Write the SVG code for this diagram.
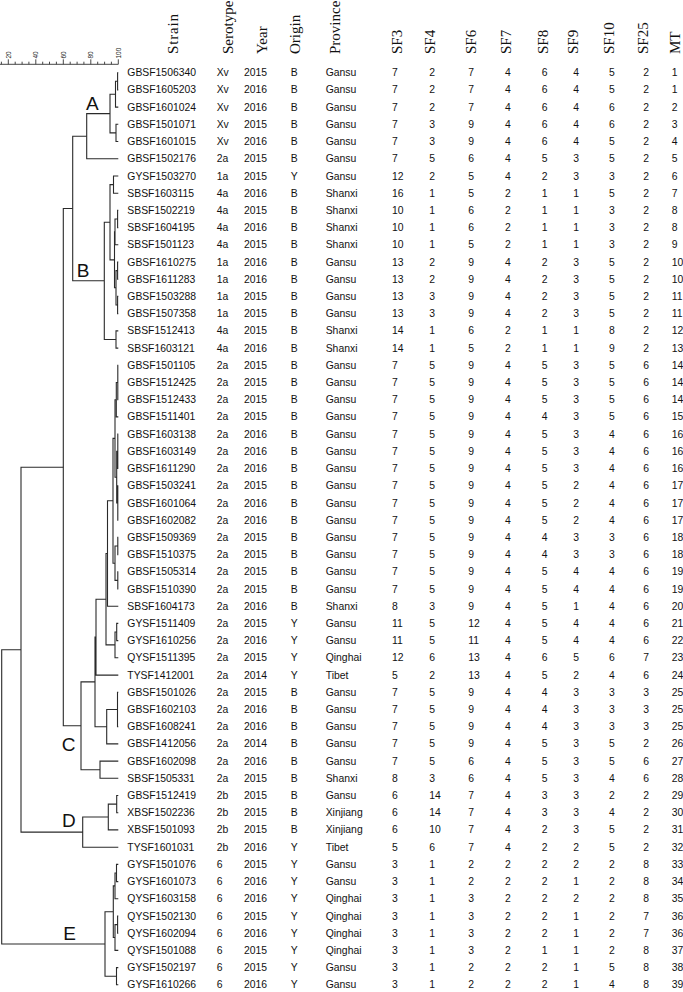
<svg xmlns="http://www.w3.org/2000/svg" width="683" height="992" viewBox="0 0 683 992">
<style>
.d{font-family:"Liberation Sans",Arial,sans-serif;font-size:10.4px;fill:#111}
.h{font-family:"Liberation Serif","Times New Roman",serif;font-size:15px;fill:#111}
.sc{font-family:"Liberation Sans",Arial,sans-serif;font-size:6.5px;fill:#222}
.cl{font-family:"Liberation Sans",Arial,sans-serif;font-size:19px;fill:#111}
.ln{fill:none;stroke:#2a2a2a;stroke-width:1.1}
.tk{fill:none;stroke:#333;stroke-width:0.9}
</style>
<rect width="683" height="992" fill="#fff"/>
<g id="scale">
<path class="tk" d="M0 64.3H118.3M118.3 59.3V64.3M111.4 61.7V64.3M104.6 61.7V64.3M97.7 61.7V64.3M90.8 59.3V64.3M83.9 61.7V64.3M77.1 61.7V64.3M70.2 61.7V64.3M63.3 59.3V64.3M56.4 61.7V64.3M49.5 61.7V64.3M42.7 61.7V64.3M35.8 59.3V64.3M28.9 61.7V64.3M22.1 61.7V64.3M15.2 61.7V64.3M8.3 59.3V64.3M1.4 61.7V64.3"/>
<text class="sc" transform="translate(120.6 58.5) rotate(-90)">100</text>
<text class="sc" transform="translate(93.1 58.5) rotate(-90)">80</text>
<text class="sc" transform="translate(65.6 58.5) rotate(-90)">60</text>
<text class="sc" transform="translate(38.1 58.5) rotate(-90)">40</text>
<text class="sc" transform="translate(10.6 58.5) rotate(-90)">20</text>
</g>
<g id="header">
<text class="h" transform="translate(178 54) rotate(-90)" textLength="40" lengthAdjust="spacing">Strain</text>
<text class="h" transform="translate(233 54) rotate(-90)">Serotype</text>
<text class="h" transform="translate(266.7 54) rotate(-90)">Year</text>
<text class="h" transform="translate(300 54) rotate(-90)">Origin</text>
<text class="h" transform="translate(340 54) rotate(-90)">Province</text>
<text class="h" transform="translate(401.7 54) rotate(-90)">SF3</text>
<text class="h" transform="translate(435 54) rotate(-90)">SF4</text>
<text class="h" transform="translate(476 54) rotate(-90)">SF6</text>
<text class="h" transform="translate(511 54) rotate(-90)">SF7</text>
<text class="h" transform="translate(547.5 54) rotate(-90)">SF8</text>
<text class="h" transform="translate(578 54) rotate(-90)">SF9</text>
<text class="h" transform="translate(614 54) rotate(-90)">SF10</text>
<text class="h" transform="translate(648 54) rotate(-90)">SF25</text>
<text class="h" transform="translate(680.3 54) rotate(-90)">MT</text>
</g>
<g id="connectors">
<path class="ln" d="M118.3 72.7H117.6V89.9H118.3M117.6 81.3H115.5V107.1H118.3M118.3 124.3H116V141.5H118.3M115.5 94.2H110V132.9H116M110 113.6H86.7V158.8H118.3"/>
<path class="ln" d="M118.3 176H113.5V193.2H118.3M118.3 210.4H117.6V227.6H118.3M117.6 219H115V244.8H118.3M118.3 262H117.6V279.2H118.3M118.3 296.4H117.6V313.6H118.3M117.6 270.6H116V305H117.6M115 231.9H114.5V287.8H116M113.5 184.6H110V259.9H114.5M118.3 330.9H116V348.1H118.3M110 222.2H104.3V339.5H116M86.7 136.2H72.7V280.8H104.3"/>
<path class="ln" d="M118.3 365.3H117.8V399.7H118.3M117.8 382.5H116.3V416.9H118.3M118.3 434.1H117.8V468.5H118.3M118.3 485.7H117.8V520.2H118.3M117.8 451.3H116.7V503H117.8M116.3 399.7H115V477.2H116.7M118.3 537.4H117.8V554.6H118.3M118.3 571.8H117.8V589H118.3M117.8 546H115V580.4H117.8M115 438.4H113V563.2H115M113 500.8H107.5V606.2H118.3M118.3 623.4H116.7V640.6H118.3M116.7 632H115V657.8H118.3M107.5 553.5H106V644.9H115M106 599.2H96V675.1H118.3M118.3 692.3H117.5V726.7H118.3M117.5 709.5H106.7V743.9H118.3M96 637.1H95V726.7H106.7M118.3 761.1H100V778.3H118.3M95 681.9H81V769.7H100M72.7 208.5H63.3V725.8H81"/>
<path class="ln" d="M118.3 795.5H116.7V812.7H118.3M116.7 804.1H108.3V829.9H118.3M108.3 817H82.7V847.2H118.3M63.3 467.2H21V832.1H82.7"/>
<path class="ln" d="M118.3 864.4H116.5V881.6H118.3M116.5 873H115V898.8H118.3M118.3 916H117.6V933.2H118.3M117.6 924.6H115V950.4H118.3M115 885.9H113.3V937.5H115M118.3 967.6H116.5V984.8H118.3M113.3 911.7H105V976.2H116.5M21 649.7H1.7V944H105"/>
</g>
<g id="clusters">
<text id="cl-A" class="cl" x="86" y="110">A</text>
<text id="cl-B" class="cl" x="76.7" y="276.7">B</text>
<text id="cl-C" class="cl" x="61.7" y="751.2">C</text>
<text id="cl-D" class="cl" x="62" y="826.7">D</text>
<text id="cl-E" class="cl" x="63.3" y="940">E</text>
</g>
<g id="rows" class="d">
<g id="r01"><text y="76.2"><tspan x="127.3">GBSF1506340</tspan><tspan x="216.7">Xv</tspan><tspan x="244">2015</tspan><tspan x="290.7">B</tspan><tspan x="325.7">Gansu</tspan><tspan x="392">7</tspan><tspan x="429.3">2</tspan><tspan x="468.3">7</tspan><tspan x="505">4</tspan><tspan x="541.7">6</tspan><tspan x="573.3">4</tspan><tspan x="609">5</tspan><tspan x="643.3">2</tspan><tspan x="671.7">1</tspan></text></g>
<g id="r02"><text y="93.4"><tspan x="127.3">GBSF1605203</tspan><tspan x="216.7">Xv</tspan><tspan x="244">2016</tspan><tspan x="290.7">B</tspan><tspan x="325.7">Gansu</tspan><tspan x="392">7</tspan><tspan x="429.3">2</tspan><tspan x="468.3">7</tspan><tspan x="505">4</tspan><tspan x="541.7">6</tspan><tspan x="573.3">4</tspan><tspan x="609">5</tspan><tspan x="643.3">2</tspan><tspan x="671.7">1</tspan></text></g>
<g id="r03"><text y="110.6"><tspan x="127.3">GBSF1601024</tspan><tspan x="216.7">Xv</tspan><tspan x="244">2016</tspan><tspan x="290.7">B</tspan><tspan x="325.7">Gansu</tspan><tspan x="392">7</tspan><tspan x="429.3">2</tspan><tspan x="468.3">7</tspan><tspan x="505">4</tspan><tspan x="541.7">6</tspan><tspan x="573.3">4</tspan><tspan x="609">6</tspan><tspan x="643.3">2</tspan><tspan x="671.7">2</tspan></text></g>
<g id="r04"><text y="127.8"><tspan x="127.3">GBSF1501071</tspan><tspan x="216.7">Xv</tspan><tspan x="244">2015</tspan><tspan x="290.7">B</tspan><tspan x="325.7">Gansu</tspan><tspan x="392">7</tspan><tspan x="429.3">3</tspan><tspan x="468.3">9</tspan><tspan x="505">4</tspan><tspan x="541.7">6</tspan><tspan x="573.3">4</tspan><tspan x="609">6</tspan><tspan x="643.3">2</tspan><tspan x="671.7">3</tspan></text></g>
<g id="r05"><text y="145"><tspan x="127.3">GBSF1601015</tspan><tspan x="216.7">Xv</tspan><tspan x="244">2016</tspan><tspan x="290.7">B</tspan><tspan x="325.7">Gansu</tspan><tspan x="392">7</tspan><tspan x="429.3">3</tspan><tspan x="468.3">9</tspan><tspan x="505">4</tspan><tspan x="541.7">6</tspan><tspan x="573.3">4</tspan><tspan x="609">5</tspan><tspan x="643.3">2</tspan><tspan x="671.7">4</tspan></text></g>
<g id="r06"><text y="162.3"><tspan x="127.3">GBSF1502176</tspan><tspan x="216.7">2a</tspan><tspan x="244">2015</tspan><tspan x="290.7">B</tspan><tspan x="325.7">Gansu</tspan><tspan x="392">7</tspan><tspan x="429.3">5</tspan><tspan x="468.3">6</tspan><tspan x="505">4</tspan><tspan x="541.7">5</tspan><tspan x="573.3">3</tspan><tspan x="609">5</tspan><tspan x="643.3">2</tspan><tspan x="671.7">5</tspan></text></g>
<g id="r07"><text y="179.5"><tspan x="127.3">GYSF1503270</tspan><tspan x="216.7">1a</tspan><tspan x="244">2015</tspan><tspan x="290.7">Y</tspan><tspan x="325.7">Gansu</tspan><tspan x="392">12</tspan><tspan x="429.3">2</tspan><tspan x="468.3">5</tspan><tspan x="505">4</tspan><tspan x="541.7">2</tspan><tspan x="573.3">3</tspan><tspan x="609">3</tspan><tspan x="643.3">2</tspan><tspan x="671.7">6</tspan></text></g>
<g id="r08"><text y="196.7"><tspan x="127.3">SBSF1603115</tspan><tspan x="216.7">4a</tspan><tspan x="244">2016</tspan><tspan x="290.7">B</tspan><tspan x="325.7">Shanxi</tspan><tspan x="392">16</tspan><tspan x="429.3">1</tspan><tspan x="468.3">5</tspan><tspan x="505">2</tspan><tspan x="541.7">1</tspan><tspan x="573.3">1</tspan><tspan x="609">5</tspan><tspan x="643.3">2</tspan><tspan x="671.7">7</tspan></text></g>
<g id="r09"><text y="213.9"><tspan x="127.3">SBSF1502219</tspan><tspan x="216.7">4a</tspan><tspan x="244">2015</tspan><tspan x="290.7">B</tspan><tspan x="325.7">Shanxi</tspan><tspan x="392">10</tspan><tspan x="429.3">1</tspan><tspan x="468.3">6</tspan><tspan x="505">2</tspan><tspan x="541.7">1</tspan><tspan x="573.3">1</tspan><tspan x="609">3</tspan><tspan x="643.3">2</tspan><tspan x="671.7">8</tspan></text></g>
<g id="r10"><text y="231.1"><tspan x="127.3">SBSF1604195</tspan><tspan x="216.7">4a</tspan><tspan x="244">2016</tspan><tspan x="290.7">B</tspan><tspan x="325.7">Shanxi</tspan><tspan x="392">10</tspan><tspan x="429.3">1</tspan><tspan x="468.3">6</tspan><tspan x="505">2</tspan><tspan x="541.7">1</tspan><tspan x="573.3">1</tspan><tspan x="609">3</tspan><tspan x="643.3">2</tspan><tspan x="671.7">8</tspan></text></g>
<g id="r11"><text y="248.3"><tspan x="127.3">SBSF1501123</tspan><tspan x="216.7">4a</tspan><tspan x="244">2015</tspan><tspan x="290.7">B</tspan><tspan x="325.7">Shanxi</tspan><tspan x="392">10</tspan><tspan x="429.3">1</tspan><tspan x="468.3">5</tspan><tspan x="505">2</tspan><tspan x="541.7">1</tspan><tspan x="573.3">1</tspan><tspan x="609">3</tspan><tspan x="643.3">2</tspan><tspan x="671.7">9</tspan></text></g>
<g id="r12"><text y="265.5"><tspan x="127.3">GBSF1610275</tspan><tspan x="216.7">1a</tspan><tspan x="244">2016</tspan><tspan x="290.7">B</tspan><tspan x="325.7">Gansu</tspan><tspan x="392">13</tspan><tspan x="429.3">2</tspan><tspan x="468.3">9</tspan><tspan x="505">4</tspan><tspan x="541.7">2</tspan><tspan x="573.3">3</tspan><tspan x="609">5</tspan><tspan x="643.3">2</tspan><tspan x="671.7">10</tspan></text></g>
<g id="r13"><text y="282.7"><tspan x="127.3">GBSF1611283</tspan><tspan x="216.7">1a</tspan><tspan x="244">2016</tspan><tspan x="290.7">B</tspan><tspan x="325.7">Gansu</tspan><tspan x="392">13</tspan><tspan x="429.3">2</tspan><tspan x="468.3">9</tspan><tspan x="505">4</tspan><tspan x="541.7">2</tspan><tspan x="573.3">3</tspan><tspan x="609">5</tspan><tspan x="643.3">2</tspan><tspan x="671.7">10</tspan></text></g>
<g id="r14"><text y="299.9"><tspan x="127.3">GBSF1503288</tspan><tspan x="216.7">1a</tspan><tspan x="244">2015</tspan><tspan x="290.7">B</tspan><tspan x="325.7">Gansu</tspan><tspan x="392">13</tspan><tspan x="429.3">3</tspan><tspan x="468.3">9</tspan><tspan x="505">4</tspan><tspan x="541.7">2</tspan><tspan x="573.3">3</tspan><tspan x="609">5</tspan><tspan x="643.3">2</tspan><tspan x="671.7">11</tspan></text></g>
<g id="r15"><text y="317.1"><tspan x="127.3">GBSF1507358</tspan><tspan x="216.7">1a</tspan><tspan x="244">2015</tspan><tspan x="290.7">B</tspan><tspan x="325.7">Gansu</tspan><tspan x="392">13</tspan><tspan x="429.3">3</tspan><tspan x="468.3">9</tspan><tspan x="505">4</tspan><tspan x="541.7">2</tspan><tspan x="573.3">3</tspan><tspan x="609">5</tspan><tspan x="643.3">2</tspan><tspan x="671.7">11</tspan></text></g>
<g id="r16"><text y="334.4"><tspan x="127.3">SBSF1512413</tspan><tspan x="216.7">4a</tspan><tspan x="244">2015</tspan><tspan x="290.7">B</tspan><tspan x="325.7">Shanxi</tspan><tspan x="392">14</tspan><tspan x="429.3">1</tspan><tspan x="468.3">6</tspan><tspan x="505">2</tspan><tspan x="541.7">1</tspan><tspan x="573.3">1</tspan><tspan x="609">8</tspan><tspan x="643.3">2</tspan><tspan x="671.7">12</tspan></text></g>
<g id="r17"><text y="351.6"><tspan x="127.3">SBSF1603121</tspan><tspan x="216.7">4a</tspan><tspan x="244">2016</tspan><tspan x="290.7">B</tspan><tspan x="325.7">Shanxi</tspan><tspan x="392">14</tspan><tspan x="429.3">1</tspan><tspan x="468.3">5</tspan><tspan x="505">2</tspan><tspan x="541.7">1</tspan><tspan x="573.3">1</tspan><tspan x="609">9</tspan><tspan x="643.3">2</tspan><tspan x="671.7">13</tspan></text></g>
<g id="r18"><text y="368.8"><tspan x="127.3">GBSF1501105</tspan><tspan x="216.7">2a</tspan><tspan x="244">2015</tspan><tspan x="290.7">B</tspan><tspan x="325.7">Gansu</tspan><tspan x="392">7</tspan><tspan x="429.3">5</tspan><tspan x="468.3">9</tspan><tspan x="505">4</tspan><tspan x="541.7">5</tspan><tspan x="573.3">3</tspan><tspan x="609">5</tspan><tspan x="643.3">6</tspan><tspan x="671.7">14</tspan></text></g>
<g id="r19"><text y="386"><tspan x="127.3">GBSF1512425</tspan><tspan x="216.7">2a</tspan><tspan x="244">2015</tspan><tspan x="290.7">B</tspan><tspan x="325.7">Gansu</tspan><tspan x="392">7</tspan><tspan x="429.3">5</tspan><tspan x="468.3">9</tspan><tspan x="505">4</tspan><tspan x="541.7">5</tspan><tspan x="573.3">3</tspan><tspan x="609">5</tspan><tspan x="643.3">6</tspan><tspan x="671.7">14</tspan></text></g>
<g id="r20"><text y="403.2"><tspan x="127.3">GBSF1512433</tspan><tspan x="216.7">2a</tspan><tspan x="244">2015</tspan><tspan x="290.7">B</tspan><tspan x="325.7">Gansu</tspan><tspan x="392">7</tspan><tspan x="429.3">5</tspan><tspan x="468.3">9</tspan><tspan x="505">4</tspan><tspan x="541.7">5</tspan><tspan x="573.3">3</tspan><tspan x="609">5</tspan><tspan x="643.3">6</tspan><tspan x="671.7">14</tspan></text></g>
<g id="r21"><text y="420.4"><tspan x="127.3">GBSF1511401</tspan><tspan x="216.7">2a</tspan><tspan x="244">2015</tspan><tspan x="290.7">B</tspan><tspan x="325.7">Gansu</tspan><tspan x="392">7</tspan><tspan x="429.3">5</tspan><tspan x="468.3">9</tspan><tspan x="505">4</tspan><tspan x="541.7">4</tspan><tspan x="573.3">3</tspan><tspan x="609">5</tspan><tspan x="643.3">6</tspan><tspan x="671.7">15</tspan></text></g>
<g id="r22"><text y="437.6"><tspan x="127.3">GBSF1603138</tspan><tspan x="216.7">2a</tspan><tspan x="244">2016</tspan><tspan x="290.7">B</tspan><tspan x="325.7">Gansu</tspan><tspan x="392">7</tspan><tspan x="429.3">5</tspan><tspan x="468.3">9</tspan><tspan x="505">4</tspan><tspan x="541.7">5</tspan><tspan x="573.3">3</tspan><tspan x="609">4</tspan><tspan x="643.3">6</tspan><tspan x="671.7">16</tspan></text></g>
<g id="r23"><text y="454.8"><tspan x="127.3">GBSF1603149</tspan><tspan x="216.7">2a</tspan><tspan x="244">2016</tspan><tspan x="290.7">B</tspan><tspan x="325.7">Gansu</tspan><tspan x="392">7</tspan><tspan x="429.3">5</tspan><tspan x="468.3">9</tspan><tspan x="505">4</tspan><tspan x="541.7">5</tspan><tspan x="573.3">3</tspan><tspan x="609">4</tspan><tspan x="643.3">6</tspan><tspan x="671.7">16</tspan></text></g>
<g id="r24"><text y="472"><tspan x="127.3">GBSF1611290</tspan><tspan x="216.7">2a</tspan><tspan x="244">2016</tspan><tspan x="290.7">B</tspan><tspan x="325.7">Gansu</tspan><tspan x="392">7</tspan><tspan x="429.3">5</tspan><tspan x="468.3">9</tspan><tspan x="505">4</tspan><tspan x="541.7">5</tspan><tspan x="573.3">3</tspan><tspan x="609">4</tspan><tspan x="643.3">6</tspan><tspan x="671.7">16</tspan></text></g>
<g id="r25"><text y="489.2"><tspan x="127.3">GBSF1503241</tspan><tspan x="216.7">2a</tspan><tspan x="244">2015</tspan><tspan x="290.7">B</tspan><tspan x="325.7">Gansu</tspan><tspan x="392">7</tspan><tspan x="429.3">5</tspan><tspan x="468.3">9</tspan><tspan x="505">4</tspan><tspan x="541.7">5</tspan><tspan x="573.3">2</tspan><tspan x="609">4</tspan><tspan x="643.3">6</tspan><tspan x="671.7">17</tspan></text></g>
<g id="r26"><text y="506.5"><tspan x="127.3">GBSF1601064</tspan><tspan x="216.7">2a</tspan><tspan x="244">2016</tspan><tspan x="290.7">B</tspan><tspan x="325.7">Gansu</tspan><tspan x="392">7</tspan><tspan x="429.3">5</tspan><tspan x="468.3">9</tspan><tspan x="505">4</tspan><tspan x="541.7">5</tspan><tspan x="573.3">2</tspan><tspan x="609">4</tspan><tspan x="643.3">6</tspan><tspan x="671.7">17</tspan></text></g>
<g id="r27"><text y="523.7"><tspan x="127.3">GBSF1602082</tspan><tspan x="216.7">2a</tspan><tspan x="244">2016</tspan><tspan x="290.7">B</tspan><tspan x="325.7">Gansu</tspan><tspan x="392">7</tspan><tspan x="429.3">5</tspan><tspan x="468.3">9</tspan><tspan x="505">4</tspan><tspan x="541.7">5</tspan><tspan x="573.3">2</tspan><tspan x="609">4</tspan><tspan x="643.3">6</tspan><tspan x="671.7">17</tspan></text></g>
<g id="r28"><text y="540.9"><tspan x="127.3">GBSF1509369</tspan><tspan x="216.7">2a</tspan><tspan x="244">2015</tspan><tspan x="290.7">B</tspan><tspan x="325.7">Gansu</tspan><tspan x="392">7</tspan><tspan x="429.3">5</tspan><tspan x="468.3">9</tspan><tspan x="505">4</tspan><tspan x="541.7">4</tspan><tspan x="573.3">3</tspan><tspan x="609">3</tspan><tspan x="643.3">6</tspan><tspan x="671.7">18</tspan></text></g>
<g id="r29"><text y="558.1"><tspan x="127.3">GBSF1510375</tspan><tspan x="216.7">2a</tspan><tspan x="244">2015</tspan><tspan x="290.7">B</tspan><tspan x="325.7">Gansu</tspan><tspan x="392">7</tspan><tspan x="429.3">5</tspan><tspan x="468.3">9</tspan><tspan x="505">4</tspan><tspan x="541.7">4</tspan><tspan x="573.3">3</tspan><tspan x="609">3</tspan><tspan x="643.3">6</tspan><tspan x="671.7">18</tspan></text></g>
<g id="r30"><text y="575.3"><tspan x="127.3">GBSF1505314</tspan><tspan x="216.7">2a</tspan><tspan x="244">2015</tspan><tspan x="290.7">B</tspan><tspan x="325.7">Gansu</tspan><tspan x="392">7</tspan><tspan x="429.3">5</tspan><tspan x="468.3">9</tspan><tspan x="505">4</tspan><tspan x="541.7">5</tspan><tspan x="573.3">4</tspan><tspan x="609">4</tspan><tspan x="643.3">6</tspan><tspan x="671.7">19</tspan></text></g>
<g id="r31"><text y="592.5"><tspan x="127.3">GBSF1510390</tspan><tspan x="216.7">2a</tspan><tspan x="244">2015</tspan><tspan x="290.7">B</tspan><tspan x="325.7">Gansu</tspan><tspan x="392">7</tspan><tspan x="429.3">5</tspan><tspan x="468.3">9</tspan><tspan x="505">4</tspan><tspan x="541.7">5</tspan><tspan x="573.3">4</tspan><tspan x="609">4</tspan><tspan x="643.3">6</tspan><tspan x="671.7">19</tspan></text></g>
<g id="r32"><text y="609.7"><tspan x="127.3">SBSF1604173</tspan><tspan x="216.7">2a</tspan><tspan x="244">2016</tspan><tspan x="290.7">B</tspan><tspan x="325.7">Shanxi</tspan><tspan x="392">8</tspan><tspan x="429.3">3</tspan><tspan x="468.3">9</tspan><tspan x="505">4</tspan><tspan x="541.7">5</tspan><tspan x="573.3">1</tspan><tspan x="609">4</tspan><tspan x="643.3">6</tspan><tspan x="671.7">20</tspan></text></g>
<g id="r33"><text y="626.9"><tspan x="127.3">GYSF1511409</tspan><tspan x="216.7">2a</tspan><tspan x="244">2015</tspan><tspan x="290.7">Y</tspan><tspan x="325.7">Gansu</tspan><tspan x="392">11</tspan><tspan x="429.3">5</tspan><tspan x="468.3">12</tspan><tspan x="505">4</tspan><tspan x="541.7">5</tspan><tspan x="573.3">4</tspan><tspan x="609">4</tspan><tspan x="643.3">6</tspan><tspan x="671.7">21</tspan></text></g>
<g id="r34"><text y="644.1"><tspan x="127.3">GYSF1610256</tspan><tspan x="216.7">2a</tspan><tspan x="244">2016</tspan><tspan x="290.7">Y</tspan><tspan x="325.7">Gansu</tspan><tspan x="392">11</tspan><tspan x="429.3">5</tspan><tspan x="468.3">11</tspan><tspan x="505">4</tspan><tspan x="541.7">5</tspan><tspan x="573.3">4</tspan><tspan x="609">4</tspan><tspan x="643.3">6</tspan><tspan x="671.7">22</tspan></text></g>
<g id="r35"><text y="661.3"><tspan x="127.3">QYSF1511395</tspan><tspan x="216.7">2a</tspan><tspan x="244">2015</tspan><tspan x="290.7">Y</tspan><tspan x="325.7">Qinghai</tspan><tspan x="392">12</tspan><tspan x="429.3">6</tspan><tspan x="468.3">13</tspan><tspan x="505">4</tspan><tspan x="541.7">6</tspan><tspan x="573.3">5</tspan><tspan x="609">6</tspan><tspan x="643.3">7</tspan><tspan x="671.7">23</tspan></text></g>
<g id="r36"><text y="678.6"><tspan x="127.3">TYSF1412001</tspan><tspan x="216.7">2a</tspan><tspan x="244">2014</tspan><tspan x="290.7">Y</tspan><tspan x="325.7">Tibet</tspan><tspan x="392">5</tspan><tspan x="429.3">2</tspan><tspan x="468.3">13</tspan><tspan x="505">4</tspan><tspan x="541.7">5</tspan><tspan x="573.3">2</tspan><tspan x="609">4</tspan><tspan x="643.3">6</tspan><tspan x="671.7">24</tspan></text></g>
<g id="r37"><text y="695.8"><tspan x="127.3">GBSF1501026</tspan><tspan x="216.7">2a</tspan><tspan x="244">2015</tspan><tspan x="290.7">B</tspan><tspan x="325.7">Gansu</tspan><tspan x="392">7</tspan><tspan x="429.3">5</tspan><tspan x="468.3">9</tspan><tspan x="505">4</tspan><tspan x="541.7">4</tspan><tspan x="573.3">3</tspan><tspan x="609">3</tspan><tspan x="643.3">3</tspan><tspan x="671.7">25</tspan></text></g>
<g id="r38"><text y="713"><tspan x="127.3">GBSF1602103</tspan><tspan x="216.7">2a</tspan><tspan x="244">2016</tspan><tspan x="290.7">B</tspan><tspan x="325.7">Gansu</tspan><tspan x="392">7</tspan><tspan x="429.3">5</tspan><tspan x="468.3">9</tspan><tspan x="505">4</tspan><tspan x="541.7">4</tspan><tspan x="573.3">3</tspan><tspan x="609">3</tspan><tspan x="643.3">3</tspan><tspan x="671.7">25</tspan></text></g>
<g id="r39"><text y="730.2"><tspan x="127.3">GBSF1608241</tspan><tspan x="216.7">2a</tspan><tspan x="244">2016</tspan><tspan x="290.7">B</tspan><tspan x="325.7">Gansu</tspan><tspan x="392">7</tspan><tspan x="429.3">5</tspan><tspan x="468.3">9</tspan><tspan x="505">4</tspan><tspan x="541.7">4</tspan><tspan x="573.3">3</tspan><tspan x="609">3</tspan><tspan x="643.3">3</tspan><tspan x="671.7">25</tspan></text></g>
<g id="r40"><text y="747.4"><tspan x="127.3">GBSF1412056</tspan><tspan x="216.7">2a</tspan><tspan x="244">2014</tspan><tspan x="290.7">B</tspan><tspan x="325.7">Gansu</tspan><tspan x="392">7</tspan><tspan x="429.3">5</tspan><tspan x="468.3">9</tspan><tspan x="505">4</tspan><tspan x="541.7">5</tspan><tspan x="573.3">3</tspan><tspan x="609">5</tspan><tspan x="643.3">2</tspan><tspan x="671.7">26</tspan></text></g>
<g id="r41"><text y="764.6"><tspan x="127.3">GBSF1602098</tspan><tspan x="216.7">2a</tspan><tspan x="244">2016</tspan><tspan x="290.7">B</tspan><tspan x="325.7">Gansu</tspan><tspan x="392">7</tspan><tspan x="429.3">5</tspan><tspan x="468.3">6</tspan><tspan x="505">4</tspan><tspan x="541.7">5</tspan><tspan x="573.3">3</tspan><tspan x="609">5</tspan><tspan x="643.3">6</tspan><tspan x="671.7">27</tspan></text></g>
<g id="r42"><text y="781.8"><tspan x="127.3">SBSF1505331</tspan><tspan x="216.7">2a</tspan><tspan x="244">2015</tspan><tspan x="290.7">B</tspan><tspan x="325.7">Shanxi</tspan><tspan x="392">8</tspan><tspan x="429.3">3</tspan><tspan x="468.3">6</tspan><tspan x="505">4</tspan><tspan x="541.7">5</tspan><tspan x="573.3">3</tspan><tspan x="609">4</tspan><tspan x="643.3">6</tspan><tspan x="671.7">28</tspan></text></g>
<g id="r43"><text y="799"><tspan x="127.3">GBSF1512419</tspan><tspan x="216.7">2b</tspan><tspan x="244">2015</tspan><tspan x="290.7">B</tspan><tspan x="325.7">Gansu</tspan><tspan x="392">6</tspan><tspan x="429.3">14</tspan><tspan x="468.3">7</tspan><tspan x="505">4</tspan><tspan x="541.7">3</tspan><tspan x="573.3">3</tspan><tspan x="609">2</tspan><tspan x="643.3">2</tspan><tspan x="671.7">29</tspan></text></g>
<g id="r44"><text y="816.2"><tspan x="127.3">XBSF1502236</tspan><tspan x="216.7">2b</tspan><tspan x="244">2015</tspan><tspan x="290.7">B</tspan><tspan x="325.7">Xinjiang</tspan><tspan x="392">6</tspan><tspan x="429.3">14</tspan><tspan x="468.3">7</tspan><tspan x="505">4</tspan><tspan x="541.7">3</tspan><tspan x="573.3">3</tspan><tspan x="609">4</tspan><tspan x="643.3">2</tspan><tspan x="671.7">30</tspan></text></g>
<g id="r45"><text y="833.4"><tspan x="127.3">XBSF1501093</tspan><tspan x="216.7">2b</tspan><tspan x="244">2015</tspan><tspan x="290.7">B</tspan><tspan x="325.7">Xinjiang</tspan><tspan x="392">6</tspan><tspan x="429.3">10</tspan><tspan x="468.3">7</tspan><tspan x="505">4</tspan><tspan x="541.7">2</tspan><tspan x="573.3">3</tspan><tspan x="609">5</tspan><tspan x="643.3">2</tspan><tspan x="671.7">31</tspan></text></g>
<g id="r46"><text y="850.7"><tspan x="127.3">TYSF1601031</tspan><tspan x="216.7">2b</tspan><tspan x="244">2016</tspan><tspan x="290.7">Y</tspan><tspan x="325.7">Tibet</tspan><tspan x="392">5</tspan><tspan x="429.3">6</tspan><tspan x="468.3">7</tspan><tspan x="505">4</tspan><tspan x="541.7">2</tspan><tspan x="573.3">2</tspan><tspan x="609">5</tspan><tspan x="643.3">2</tspan><tspan x="671.7">32</tspan></text></g>
<g id="r47"><text y="867.9"><tspan x="127.3">GYSF1501076</tspan><tspan x="216.7">6</tspan><tspan x="244">2015</tspan><tspan x="290.7">Y</tspan><tspan x="325.7">Gansu</tspan><tspan x="392">3</tspan><tspan x="429.3">1</tspan><tspan x="468.3">2</tspan><tspan x="505">2</tspan><tspan x="541.7">2</tspan><tspan x="573.3">2</tspan><tspan x="609">2</tspan><tspan x="643.3">8</tspan><tspan x="671.7">33</tspan></text></g>
<g id="r48"><text y="885.1"><tspan x="127.3">GYSF1601073</tspan><tspan x="216.7">6</tspan><tspan x="244">2016</tspan><tspan x="290.7">Y</tspan><tspan x="325.7">Gansu</tspan><tspan x="392">3</tspan><tspan x="429.3">1</tspan><tspan x="468.3">2</tspan><tspan x="505">2</tspan><tspan x="541.7">2</tspan><tspan x="573.3">1</tspan><tspan x="609">2</tspan><tspan x="643.3">8</tspan><tspan x="671.7">34</tspan></text></g>
<g id="r49"><text y="902.3"><tspan x="127.3">QYSF1603158</tspan><tspan x="216.7">6</tspan><tspan x="244">2016</tspan><tspan x="290.7">Y</tspan><tspan x="325.7">Qinghai</tspan><tspan x="392">3</tspan><tspan x="429.3">1</tspan><tspan x="468.3">3</tspan><tspan x="505">2</tspan><tspan x="541.7">2</tspan><tspan x="573.3">2</tspan><tspan x="609">2</tspan><tspan x="643.3">8</tspan><tspan x="671.7">35</tspan></text></g>
<g id="r50"><text y="919.5"><tspan x="127.3">QYSF1502130</tspan><tspan x="216.7">6</tspan><tspan x="244">2015</tspan><tspan x="290.7">Y</tspan><tspan x="325.7">Qinghai</tspan><tspan x="392">3</tspan><tspan x="429.3">1</tspan><tspan x="468.3">3</tspan><tspan x="505">2</tspan><tspan x="541.7">2</tspan><tspan x="573.3">1</tspan><tspan x="609">2</tspan><tspan x="643.3">7</tspan><tspan x="671.7">36</tspan></text></g>
<g id="r51"><text y="936.7"><tspan x="127.3">QYSF1602094</tspan><tspan x="216.7">6</tspan><tspan x="244">2016</tspan><tspan x="290.7">Y</tspan><tspan x="325.7">Qinghai</tspan><tspan x="392">3</tspan><tspan x="429.3">1</tspan><tspan x="468.3">3</tspan><tspan x="505">2</tspan><tspan x="541.7">2</tspan><tspan x="573.3">1</tspan><tspan x="609">2</tspan><tspan x="643.3">7</tspan><tspan x="671.7">36</tspan></text></g>
<g id="r52"><text y="953.9"><tspan x="127.3">QYSF1501088</tspan><tspan x="216.7">6</tspan><tspan x="244">2015</tspan><tspan x="290.7">Y</tspan><tspan x="325.7">Qinghai</tspan><tspan x="392">3</tspan><tspan x="429.3">1</tspan><tspan x="468.3">3</tspan><tspan x="505">2</tspan><tspan x="541.7">1</tspan><tspan x="573.3">1</tspan><tspan x="609">2</tspan><tspan x="643.3">8</tspan><tspan x="671.7">37</tspan></text></g>
<g id="r53"><text y="971.1"><tspan x="127.3">GYSF1502197</tspan><tspan x="216.7">6</tspan><tspan x="244">2015</tspan><tspan x="290.7">Y</tspan><tspan x="325.7">Gansu</tspan><tspan x="392">3</tspan><tspan x="429.3">1</tspan><tspan x="468.3">2</tspan><tspan x="505">2</tspan><tspan x="541.7">2</tspan><tspan x="573.3">1</tspan><tspan x="609">5</tspan><tspan x="643.3">8</tspan><tspan x="671.7">38</tspan></text></g>
<g id="r54"><text y="988.3"><tspan x="127.3">GYSF1610266</tspan><tspan x="216.7">6</tspan><tspan x="244">2016</tspan><tspan x="290.7">Y</tspan><tspan x="325.7">Gansu</tspan><tspan x="392">3</tspan><tspan x="429.3">1</tspan><tspan x="468.3">2</tspan><tspan x="505">2</tspan><tspan x="541.7">2</tspan><tspan x="573.3">1</tspan><tspan x="609">4</tspan><tspan x="643.3">8</tspan><tspan x="671.7">39</tspan></text></g>
</g>
</svg>
